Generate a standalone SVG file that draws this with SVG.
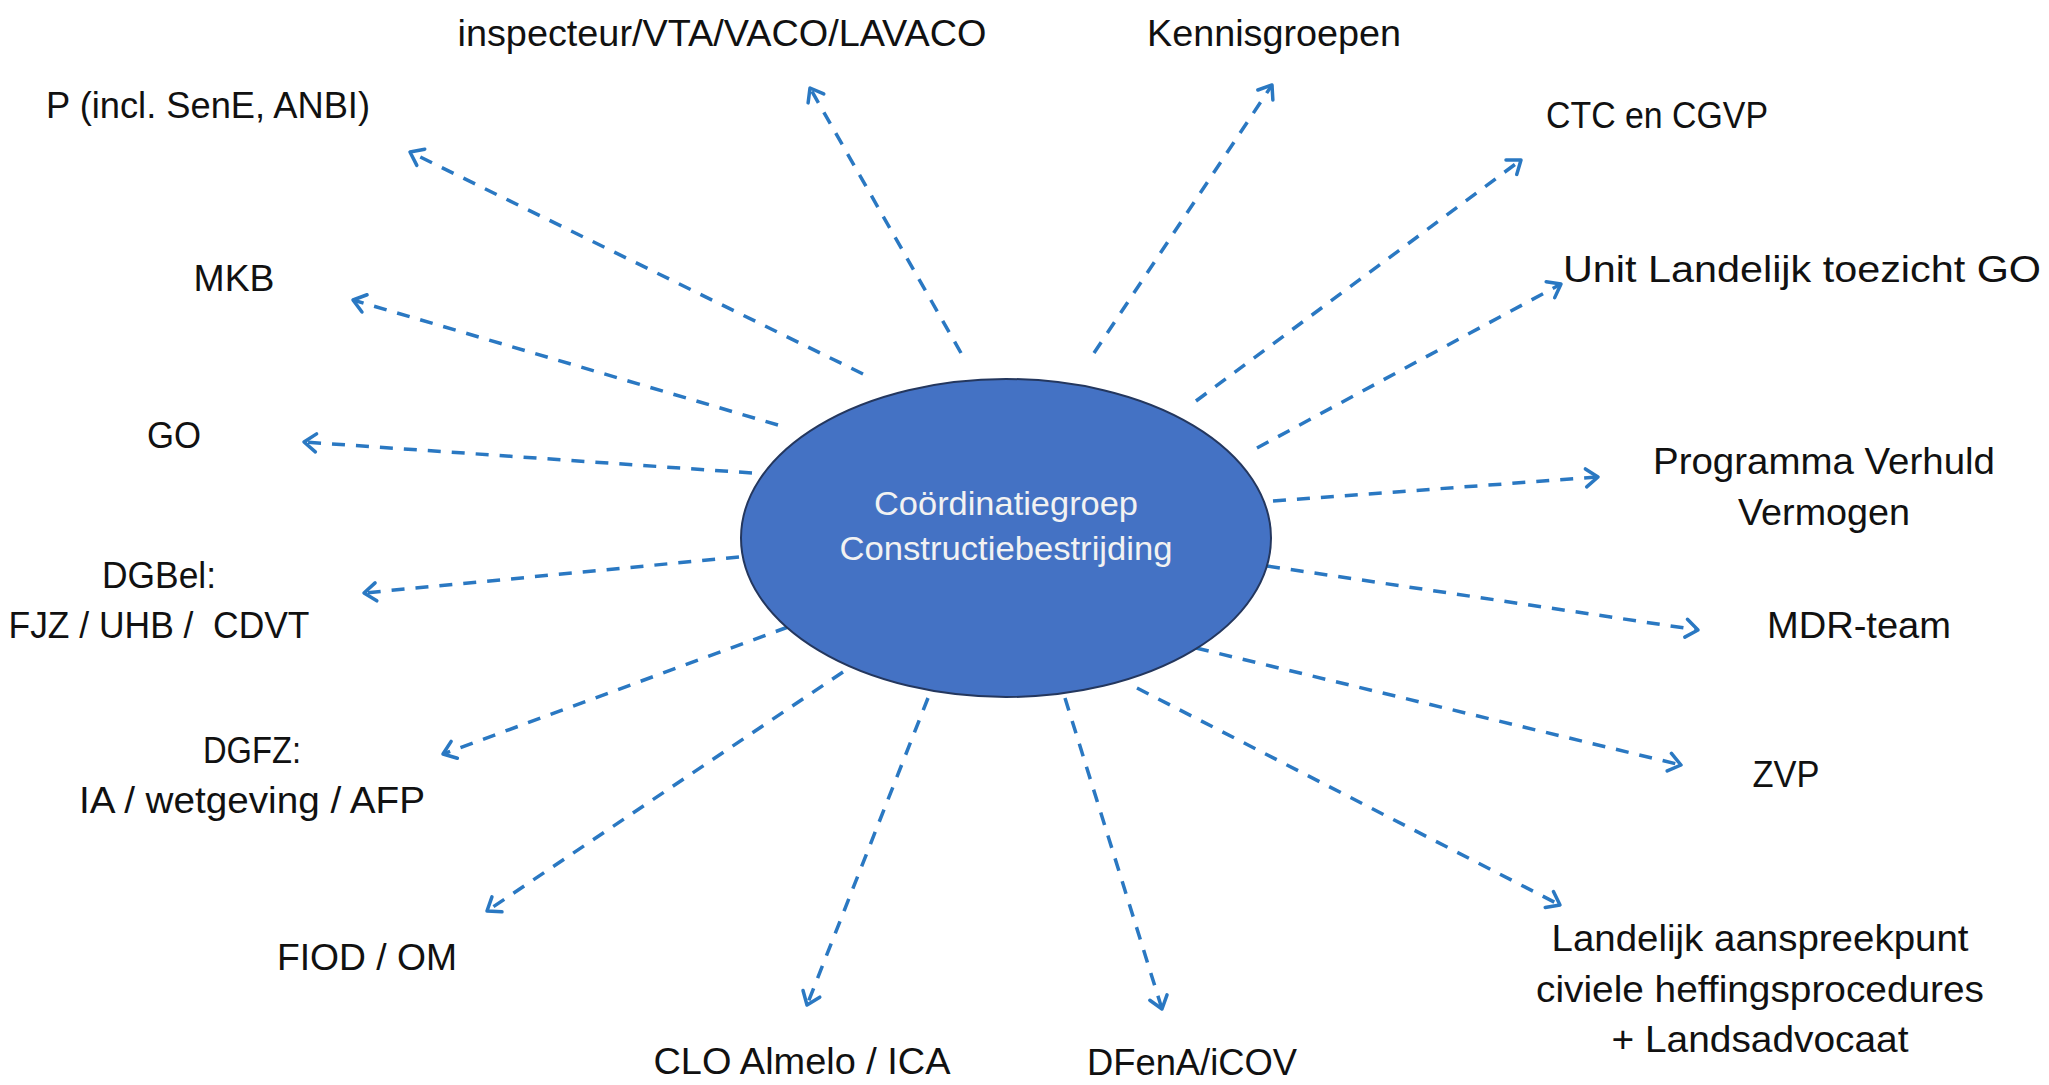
<svg xmlns="http://www.w3.org/2000/svg" width="2049" height="1085" viewBox="0 0 2049 1085">
<style>
.lbl{font-family:"Liberation Sans",Arial,sans-serif;font-size:37px;fill:#111;text-anchor:middle}
.ctr{font-family:"Liberation Sans",Arial,sans-serif;font-size:34px;fill:#f2f2f2;text-anchor:middle}
.con{fill:none;stroke:#2a78c2;stroke-width:3.5;stroke-dasharray:13 11;marker-end:url(#ah)}
</style>
<defs>
<marker id="ah" markerUnits="userSpaceOnUse" viewBox="-16 -12 20 24" refX="0" refY="0" markerWidth="20" markerHeight="24" orient="auto">
<path d="M-12 -9 L0 0 L-12 9" fill="none" stroke="#2a78c2" stroke-width="3.5" stroke-dasharray="none" stroke-linecap="round" stroke-linejoin="round"/>
</marker>
</defs>
<rect width="2049" height="1085" fill="#ffffff"/>
<g id="connectors">
<line class="con" x1="961" y1="353" x2="810" y2="88"/>
<line class="con" x1="1094" y1="353" x2="1272" y2="85"/>
<line class="con" x1="863" y1="374" x2="410" y2="152"/>
<line class="con" x1="1196" y1="401" x2="1521" y2="160"/>
<line class="con" x1="778" y1="425" x2="353" y2="300"/>
<line class="con" x1="1257" y1="448" x2="1561" y2="284"/>
<line class="con" x1="752" y1="473" x2="304" y2="442"/>
<line class="con" x1="1273" y1="501" x2="1598" y2="477"/>
<line class="con" x1="739" y1="557" x2="364" y2="593"/>
<line class="con" x1="1267" y1="566" x2="1698" y2="630"/>
<line class="con" x1="788" y1="627" x2="443" y2="754"/>
<line class="con" x1="1196" y1="648" x2="1681" y2="765"/>
<line class="con" x1="843" y1="672" x2="487" y2="911"/>
<line class="con" x1="1137" y1="688" x2="1560" y2="905"/>
<line class="con" x1="928" y1="698" x2="807" y2="1005"/>
<line class="con" x1="1065" y1="698" x2="1162" y2="1009"/>
</g>
<g id="center">
<ellipse cx="1006" cy="538" rx="265" ry="159" fill="#4472c4" stroke="#24375e" stroke-width="2"/>
<text class="ctr" x="1006" y="515" textLength="264" lengthAdjust="spacingAndGlyphs">Coördinatiegroep</text>
<text class="ctr" x="1006" y="560" textLength="333" lengthAdjust="spacingAndGlyphs">Constructiebestrijding</text>
</g>
<g id="n-inspecteur"><text class="lbl" x="722" y="46" textLength="529" lengthAdjust="spacingAndGlyphs">inspecteur/VTA/VACO/LAVACO</text></g>
<g id="n-kennisgroepen"><text class="lbl" x="1274" y="46" textLength="254" lengthAdjust="spacingAndGlyphs">Kennisgroepen</text></g>
<g id="n-p"><text class="lbl" x="208" y="118" textLength="324" lengthAdjust="spacingAndGlyphs">P (incl. SenE, ANBI)</text></g>
<g id="n-ctc"><text class="lbl" x="1657" y="128" textLength="222" lengthAdjust="spacingAndGlyphs">CTC en CGVP</text></g>
<g id="n-mkb"><text class="lbl" x="234" y="291" textLength="81" lengthAdjust="spacingAndGlyphs">MKB</text></g>
<g id="n-unit"><text class="lbl" x="1802" y="282" textLength="478" lengthAdjust="spacingAndGlyphs">Unit Landelijk toezicht GO</text></g>
<g id="n-go"><text class="lbl" x="174" y="448" textLength="54" lengthAdjust="spacingAndGlyphs">GO</text></g>
<g id="n-programma"><text class="lbl" x="1824" y="474" textLength="342" lengthAdjust="spacingAndGlyphs">Programma Verhuld</text><text class="lbl" x="1824" y="525" textLength="172" lengthAdjust="spacingAndGlyphs">Vermogen</text></g>
<g id="n-dgbel"><text class="lbl" x="159" y="588" textLength="114" lengthAdjust="spacingAndGlyphs">DGBel:</text><text class="lbl" x="159" y="638" xml:space="preserve" textLength="301" lengthAdjust="spacingAndGlyphs">FJZ / UHB /  CDVT</text></g>
<g id="n-mdr"><text class="lbl" x="1859" y="638" textLength="184" lengthAdjust="spacingAndGlyphs">MDR-team</text></g>
<g id="n-dgfz"><text class="lbl" x="252" y="763" textLength="98" lengthAdjust="spacingAndGlyphs">DGFZ:</text><text class="lbl" x="252" y="813" textLength="346" lengthAdjust="spacingAndGlyphs">IA / wetgeving / AFP</text></g>
<g id="n-zvp"><text class="lbl" x="1786" y="787" textLength="67" lengthAdjust="spacingAndGlyphs">ZVP</text></g>
<g id="n-fiod"><text class="lbl" x="367" y="970" textLength="180" lengthAdjust="spacingAndGlyphs">FIOD / OM</text></g>
<g id="n-landelijk"><text class="lbl" x="1760" y="951" textLength="417" lengthAdjust="spacingAndGlyphs">Landelijk aanspreekpunt</text><text class="lbl" x="1760" y="1002" textLength="448" lengthAdjust="spacingAndGlyphs">civiele heffingsprocedures</text><text class="lbl" x="1760" y="1052" textLength="297" lengthAdjust="spacingAndGlyphs">+ Landsadvocaat</text></g>
<g id="n-clo"><text class="lbl" x="802" y="1074" textLength="297" lengthAdjust="spacingAndGlyphs">CLO Almelo / ICA</text></g>
<g id="n-dfena"><text class="lbl" x="1192" y="1075" textLength="210" lengthAdjust="spacingAndGlyphs">DFenA/iCOV</text></g>
</svg>
